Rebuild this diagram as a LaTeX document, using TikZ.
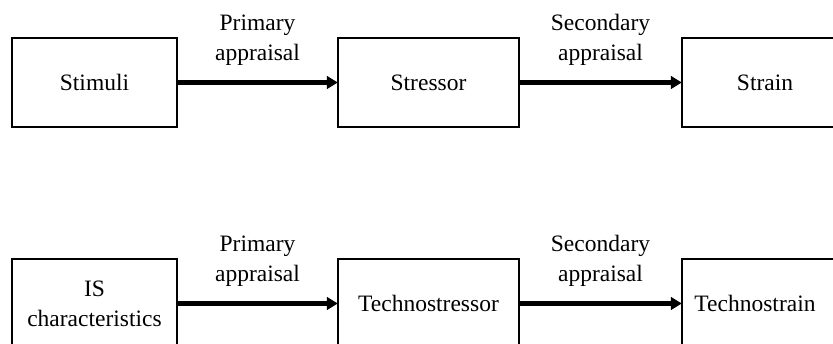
\documentclass[tikz,border=0pt]{standalone}
\usepackage{fontspec}
\setmainfont{Liberation Serif}
\usetikzlibrary{arrows.meta}
\begin{document}
\begin{tikzpicture}[x=1pt,y=1pt,
  font=\fontsize{23.5}{30}\selectfont,
  stage/.style={draw=black, line width=2.3pt, minimum height=89pt, inner sep=0pt, align=center},
  flow/.style={line width=4.2pt, -{Triangle[length=11pt,width=12.5pt]}, shorten >=-1pt},
  appr/.style={above=15pt, inner sep=0pt, align=center}]
  \useasboundingbox (0,0) rectangle (833,344);
  \clip (0,0) rectangle (833,344);

  % general stress model
  \node[stage, minimum width=165pt] (stim)   at (94.5,261.5) {Stimuli};
  \node[stage, minimum width=181pt] (stress) at (428.5,261.5) {Stressor};
  \node[stage, minimum width=166pt] (strain) at (765,261.5) {Strain};

  % technostress model
  \node[stage, minimum width=165pt] (isc)     at (94.5,40.5) {IS\\characteristics};
  \node[stage, minimum width=181pt] (tstress) at (428.5,40.5) {Technostressor};
  \node[stage, minimum width=166pt] (tstrain) at (765,40.5) {\hspace*{-20pt}Technostrain};

  \draw[flow] (stim) -- node[appr] {Primary\\appraisal} (stress);
  \draw[flow] (stress) -- node[appr] {Secondary\\appraisal} (strain);
  \draw[flow] (isc) -- node[appr] {Primary\\appraisal} (tstress);
  \draw[flow] (tstress) -- node[appr] {Secondary\\appraisal} (tstrain);
\end{tikzpicture}
\end{document}
